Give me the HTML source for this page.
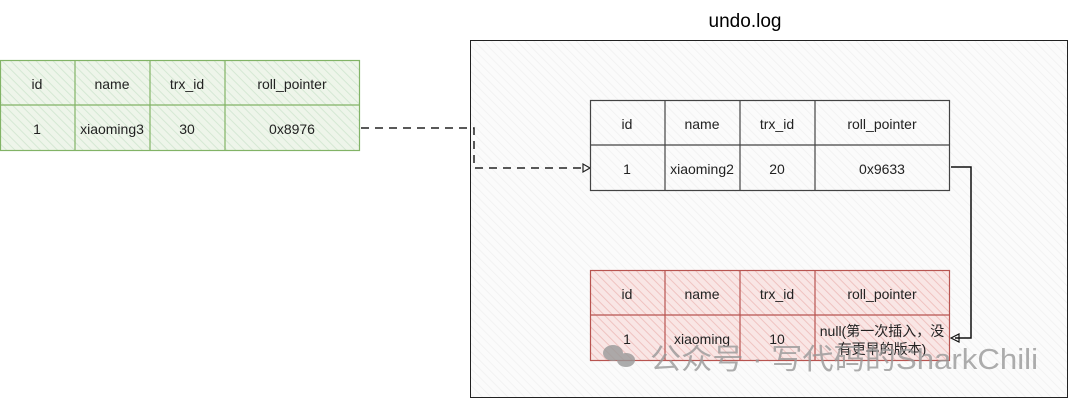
<!DOCTYPE html>
<html><head><meta charset="utf-8"><style>
html,body{margin:0;padding:0;background:#fff;}
svg text{font-family:"Liberation Sans","Noto Sans CJK SC",sans-serif;}
</style></head><body>
<svg width="1071" height="401" viewBox="0 0 1071 401" xmlns="http://www.w3.org/2000/svg">
<defs>
<pattern id="hg" width="6" height="6" patternUnits="userSpaceOnUse" patternTransform="rotate(-45)"><rect width="6" height="6" fill="#eef5ea"/><line x1="0" y1="0" x2="0" y2="6" stroke="#d5e8d4" stroke-width="2"/></pattern>
<pattern id="hr" width="6" height="6" patternUnits="userSpaceOnUse" patternTransform="rotate(-45)"><rect width="6" height="6" fill="#f9e6e5"/><line x1="0" y1="0" x2="0" y2="6" stroke="#efc3c1" stroke-width="2"/></pattern>
<pattern id="hw" width="6" height="6" patternUnits="userSpaceOnUse" patternTransform="rotate(-45)"><rect width="6" height="6" fill="#fbfbfb"/><line x1="0" y1="0" x2="0" y2="6" stroke="#f0f0f0" stroke-width="1.5"/></pattern>
</defs>
<text x="745" y="27" font-size="19" text-anchor="middle" fill="#000">undo.log</text>
<rect x="470.5" y="40.5" width="597" height="357" fill="url(#hw)" stroke="#222" stroke-width="1"/>

<g stroke="#82b366" stroke-width="1.2" fill="none">
<rect x="0.5" y="60.5" width="359" height="90" fill="url(#hg)"/>
<line x1="0" y1="105" x2="360" y2="105"/>
<line x1="75" y1="60" x2="75" y2="150"/><line x1="150" y1="60" x2="150" y2="150"/><line x1="225" y1="60" x2="225" y2="150"/>
</g>
<g font-size="14" text-anchor="middle" fill="#222">
<text x="37" y="89">id</text><text x="112" y="89">name</text><text x="187" y="89">trx_id</text><text x="292" y="89">roll_pointer</text>
<text x="37" y="134">1</text><text x="112" y="134">xiaoming3</text><text x="187" y="134">30</text><text x="292" y="134">0x8976</text>
</g>

<path d="M361 128 H474 V168 H584" fill="none" stroke="#222" stroke-width="1.5" stroke-dasharray="8 6"/>
<path d="M590 168 l-7 -4 v8 z" fill="none" stroke="#222" stroke-width="1.2"/>

<g stroke="#444" stroke-width="1.2" fill="none">
<rect x="590.5" y="100.5" width="359" height="90" fill="url(#hw)"/>
<line x1="590" y1="145" x2="950" y2="145"/>
<line x1="665" y1="100" x2="665" y2="190"/><line x1="740" y1="100" x2="740" y2="190"/><line x1="815" y1="100" x2="815" y2="190"/>
</g>
<g font-size="14" text-anchor="middle" fill="#222">
<text x="627" y="129">id</text><text x="702" y="129">name</text><text x="777" y="129">trx_id</text><text x="882" y="129">roll_pointer</text>
<text x="627" y="174">1</text><text x="702" y="174">xiaoming2</text><text x="777" y="174">20</text><text x="882" y="174">0x9633</text>
</g>

<path d="M951 167 H971 V338 H955" fill="none" stroke="#111" stroke-width="1.5"/>
<path d="M951 338 l8 -4 v8 z" fill="none" stroke="#111" stroke-width="1.2"/>

<g stroke="#b85450" stroke-width="1.2" fill="none">
<rect x="590.5" y="270.5" width="359" height="90" fill="url(#hr)"/>
<line x1="590" y1="315" x2="950" y2="315"/>
<line x1="665" y1="270" x2="665" y2="360"/><line x1="740" y1="270" x2="740" y2="360"/><line x1="815" y1="270" x2="815" y2="360"/>
</g>
<g font-size="14" text-anchor="middle" fill="#222">
<text x="627" y="299">id</text><text x="702" y="299">name</text><text x="777" y="299">trx_id</text><text x="882" y="299">roll_pointer</text>
<text x="627" y="344">1</text><text x="702" y="344">xiaoming</text><text x="777" y="344">10</text>
<text x="882" y="336">null(第一次插入，没</text><text x="882" y="354">有更早的版本)</text>
</g>

<g fill="#999" opacity="0.8">
<ellipse cx="613" cy="353" rx="10" ry="8"/><ellipse cx="626" cy="360" rx="9" ry="7"/>
<text x="650" y="369" font-size="29" textLength="388" lengthAdjust="spacingAndGlyphs">公众号 · 写代码的SharkChili</text>
</g>
</svg>
</body></html>
